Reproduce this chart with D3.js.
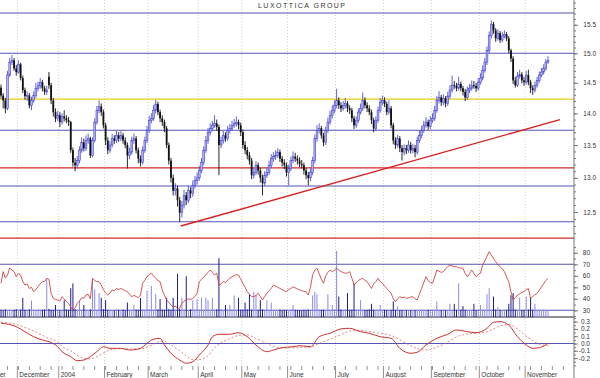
<!DOCTYPE html>
<html><head><meta charset="utf-8">
<script src="https://cdn.jsdelivr.net/npm/d3@7"></script>
<style>body{margin:0;background:#fff}svg{display:block}text{font-family:"Liberation Sans",Arial,sans-serif}</style>
</head><body><svg id="c" width="600" height="378"></svg>
<script>
const title = "LUXOTTICA GROUP";
const opens = [14.42,14.29,14.21,14.08,14.63,14.85,14.88,14.74,14.68,14.81,
14.58,14.38,14.28,14.29,14.13,14.21,14.29,14.41,14.45,14.51,
14.41,14.35,14.60,14.46,14.21,14.02,13.92,13.97,13.86,13.95,
13.92,13.89,13.86,13.42,13.23,13.19,13.26,13.42,13.54,13.45,
13.57,13.60,13.34,13.57,13.86,14.05,14.11,14.02,13.81,13.57,
13.42,13.50,13.60,13.57,13.65,13.60,13.65,13.57,13.50,13.34,
13.39,13.57,13.60,13.42,13.29,13.23,13.42,13.57,13.73,13.89,
13.92,14.05,14.15,14.02,13.92,13.86,13.76,13.50,13.26,13.00,
12.81,12.84,12.67,12.49,12.60,12.74,12.67,12.81,12.77,12.89,
12.96,13.00,13.11,13.23,13.42,13.57,13.70,13.76,13.81,13.84,
13.78,13.50,13.57,13.65,13.60,13.73,13.76,13.81,13.84,13.86,
13.81,13.70,13.50,13.42,13.34,13.26,13.04,13.08,13.19,13.11,
13.00,12.92,13.04,13.08,13.19,13.29,13.32,13.34,13.39,13.29,
13.23,13.19,13.08,13.14,13.26,13.32,13.29,13.26,13.21,13.19,
13.11,13.04,13.00,13.08,13.26,13.60,13.73,13.76,13.65,13.54,
13.73,13.86,13.97,14.05,14.13,14.21,14.13,14.08,14.13,14.16,
14.08,14.05,13.92,13.81,13.89,14.02,14.08,14.21,14.13,14.08,
14.02,13.89,13.76,13.89,14.05,14.18,14.21,14.15,14.02,14.08,
13.81,13.57,13.50,13.60,13.45,13.39,13.45,13.42,13.50,13.42,
13.45,13.39,13.57,13.65,13.73,13.81,13.86,13.79,13.89,13.92,
14.05,14.21,14.26,14.18,14.24,14.16,14.28,14.38,14.46,14.45,
14.41,14.48,14.41,14.35,14.26,14.38,14.41,14.46,14.45,14.41,
14.51,14.58,14.71,14.85,15.05,15.31,15.51,15.40,15.26,15.35,
15.23,15.30,15.33,15.26,15.05,14.91,14.54,14.46,14.61,14.64,
14.54,14.51,14.63,14.51,14.41,14.38,14.46,14.54,14.63,14.68,
14.74,14.85];
const highs = [14.47,14.33,14.25,14.70,14.92,14.97,14.92,14.80,14.88,14.84,
14.62,14.42,14.36,14.33,14.27,14.36,14.50,14.52,14.58,14.55,
14.45,14.45,14.68,14.50,14.25,14.08,14.04,14.02,14.00,14.05,
13.97,13.94,13.88,13.46,13.30,13.33,13.48,13.62,13.60,13.65,
13.68,13.63,13.62,13.92,14.12,14.21,14.16,14.06,13.85,13.62,
13.56,13.67,13.65,13.72,13.70,13.72,13.69,13.62,13.54,13.46,
13.63,13.68,13.64,13.46,13.34,13.48,13.63,13.80,13.96,14.00,
14.13,14.22,14.19,14.06,13.97,13.90,13.80,13.54,13.30,13.05,
12.92,12.88,12.72,12.66,12.82,12.79,12.88,12.86,12.96,13.03,
13.08,13.18,13.30,13.48,13.64,13.77,13.84,13.88,13.97,13.90,
13.82,13.63,13.72,13.70,13.80,13.83,13.88,13.91,13.95,13.90,
13.85,13.74,13.56,13.47,13.39,13.30,13.15,13.25,13.23,13.15,
13.05,13.10,13.15,13.26,13.36,13.39,13.42,13.45,13.43,13.33,
13.28,13.23,13.20,13.32,13.40,13.38,13.34,13.31,13.27,13.23,
13.15,13.09,13.14,13.32,13.66,13.81,13.84,13.80,13.69,13.79,
13.93,14.04,14.13,14.21,14.40,14.26,14.18,14.20,14.25,14.20,
14.13,14.09,13.96,13.95,14.08,14.16,14.34,14.26,14.18,14.13,
14.06,13.93,13.95,14.11,14.25,14.29,14.26,14.19,14.21,14.12,
13.85,13.62,13.66,13.64,13.50,13.51,13.50,13.57,13.55,13.52,
13.50,13.63,13.72,13.80,13.88,13.94,13.90,13.96,14.00,14.12,
14.28,14.36,14.30,14.31,14.28,14.35,14.46,14.62,14.53,14.50,
14.60,14.52,14.45,14.40,14.44,14.48,14.54,14.53,14.50,14.58,
14.66,14.79,14.92,15.12,15.38,15.58,15.55,15.44,15.42,15.39,
15.37,15.40,15.37,15.30,15.08,14.95,14.60,14.68,14.72,14.68,
14.60,14.70,14.72,14.55,14.46,14.52,14.60,14.69,14.75,14.81,
14.90,14.95];
const lows = [14.24,14.08,14.00,14.05,14.60,14.80,14.70,14.62,14.65,14.54,
14.33,14.22,14.20,14.08,14.05,14.17,14.25,14.36,14.40,14.36,
14.30,14.30,14.40,14.15,13.95,13.86,13.88,13.78,13.82,13.87,
13.84,13.80,13.38,13.17,13.10,13.14,13.22,13.38,13.40,13.41,
13.52,13.30,13.31,13.54,13.82,14.00,13.96,13.76,13.50,13.36,
13.38,13.46,13.52,13.53,13.55,13.56,13.52,13.45,13.14,13.28,
13.35,13.52,13.37,13.22,13.17,13.20,13.38,13.53,13.69,13.84,
13.88,14.00,13.97,13.86,13.80,13.70,13.45,13.20,12.93,12.74,
12.74,12.58,12.36,12.42,12.55,12.60,12.63,12.70,12.72,12.84,
12.90,12.96,13.07,13.19,13.38,13.52,13.65,13.72,13.77,13.72,
13.04,13.45,13.52,13.55,13.56,13.68,13.72,13.77,13.79,13.75,
13.64,13.44,13.36,13.28,13.20,12.98,12.99,13.04,13.05,12.93,
12.74,12.88,13.00,13.04,13.15,13.24,13.27,13.30,13.24,13.17,
13.13,13.02,12.89,13.10,13.22,13.24,13.20,13.16,13.14,13.05,
12.98,12.89,12.95,13.04,13.22,13.55,13.68,13.60,13.48,13.50,
13.69,13.82,13.92,14.00,14.08,14.07,14.02,14.04,14.08,14.02,
13.99,13.86,13.75,13.77,13.85,13.98,14.04,14.08,14.02,13.97,
13.83,13.70,13.72,13.85,14.01,14.13,14.10,13.97,13.98,13.76,
13.51,13.44,13.46,13.39,13.26,13.34,13.36,13.38,13.37,13.37,
13.31,13.35,13.53,13.61,13.69,13.77,13.74,13.75,13.85,13.88,
14.01,14.16,14.12,14.13,14.10,14.12,14.24,14.34,14.40,14.36,
14.37,14.36,14.29,14.20,14.22,14.33,14.37,14.40,14.35,14.37,
14.47,14.54,14.67,14.80,15.00,15.26,15.34,15.20,15.22,15.18,
15.19,15.26,15.21,15.00,14.85,14.48,14.42,14.43,14.57,14.49,
14.45,14.47,14.46,14.33,14.30,14.34,14.42,14.50,14.59,14.64,
14.70,14.82];
const closes = [14.29,14.21,14.08,14.63,14.85,14.88,14.74,14.68,14.81,14.58,
14.38,14.28,14.29,14.13,14.21,14.29,14.41,14.45,14.51,14.41,
14.35,14.38,14.46,14.21,14.02,13.92,13.97,13.86,13.95,13.92,
13.89,13.86,13.42,13.23,13.19,13.26,13.42,13.54,13.45,13.57,
13.60,13.34,13.57,13.86,14.05,14.11,14.02,13.81,13.57,13.42,
13.50,13.60,13.57,13.65,13.60,13.65,13.57,13.50,13.34,13.39,
13.57,13.60,13.42,13.29,13.23,13.42,13.57,13.73,13.89,13.92,
14.05,14.15,14.02,13.92,13.86,13.76,13.50,13.26,13.00,12.81,
12.84,12.67,12.49,12.60,12.74,12.67,12.81,12.77,12.89,12.96,
13.00,13.11,13.23,13.42,13.57,13.70,13.76,13.81,13.84,13.78,
13.50,13.57,13.65,13.60,13.73,13.76,13.81,13.84,13.86,13.81,
13.70,13.50,13.42,13.34,13.26,13.04,13.08,13.19,13.11,13.00,
12.92,13.04,13.08,13.19,13.29,13.32,13.34,13.39,13.29,13.23,
13.19,13.08,13.14,13.26,13.32,13.29,13.26,13.21,13.19,13.11,
13.04,13.00,13.08,13.26,13.60,13.73,13.76,13.65,13.54,13.73,
13.86,13.97,14.05,14.13,14.21,14.13,14.08,14.13,14.16,14.08,
14.05,13.92,13.81,13.89,14.02,14.08,14.21,14.13,14.08,14.02,
13.89,13.76,13.89,14.05,14.18,14.21,14.15,14.02,14.08,13.81,
13.57,13.50,13.60,13.45,13.39,13.45,13.42,13.50,13.42,13.45,
13.39,13.57,13.65,13.73,13.81,13.86,13.79,13.89,13.92,14.05,
14.21,14.26,14.18,14.24,14.16,14.28,14.38,14.46,14.45,14.41,
14.48,14.41,14.35,14.26,14.38,14.41,14.46,14.45,14.41,14.51,
14.58,14.71,14.85,15.05,15.31,15.51,15.40,15.26,15.35,15.23,
15.30,15.33,15.26,15.05,14.91,14.54,14.46,14.61,14.64,14.54,
14.51,14.63,14.51,14.41,14.38,14.46,14.54,14.63,14.68,14.74,
14.85,14.88];
const volumes = [300,280,320,290,310,270,300,330,290,310,
800,300,280,320,680,300,290,310,280,300,
320,1580,340,300,290,500,310,280,300,700,
320,300,1200,1400,330,310,700,300,500,310,
290,320,1600,1150,300,1000,800,330,700,300,
310,290,280,320,300,290,310,280,600,300,
290,500,310,300,800,320,300,1100,330,1300,
300,950,320,750,310,300,800,330,300,800,
320,1800,340,800,310,1700,300,320,700,310,
750,300,800,320,800,700,310,800,300,320,
2450,330,300,500,310,500,320,900,300,800,
310,300,600,320,950,310,1050,900,300,700,
320,300,700,310,600,290,300,280,310,290,
300,280,290,310,500,300,280,290,270,300,
290,310,300,900,1050,950,320,300,310,290,
950,300,500,320,2750,850,310,300,320,1000,
300,310,1400,320,300,700,310,290,300,320,
550,300,290,310,500,280,300,290,310,300,
650,300,450,280,290,300,270,290,280,300,
290,280,300,310,290,280,300,290,310,300,
650,300,290,310,280,300,550,290,550,300,
1400,310,450,300,290,280,300,550,290,310,
500,300,310,950,1200,300,850,310,400,300,
290,310,300,550,900,1000,310,300,800,290,
300,850,310,800,300,550,290,300,280,310,
290,300];
const rsi = [53.5,63.6,58,60.7,66.8,65,63.6,59.2,62,60.7,
55,52,53,49,50,46.2,48,50.5,53,54.9,
55,57.8,57,44.8,40.4,39.5,39,38,41.8,40,
37.5,36,33.1,30.3,32,36,38,41,40.4,43.3,
44,40,57.8,56,54.9,55,52,48,45,43.3,
45,47.7,47,49,48,49,48,47,46.2,44,
41.8,43,42,41,43.3,53.5,56,59.2,61,62.2,
60,57.8,56,54.9,47.7,43,39,37,34.6,33,
33.5,31.7,32,36,38,39,40,39.5,40.4,42,
44.8,54.9,57,59,60.7,63,65,63,60.7,62.2,
52,53,55,54,56.3,58,59.2,60,61,60.7,
57,53.5,50,46.2,44,42,41.8,43,44.8,42,
39,42,44.8,47,49,52,51,50,49,48,
47,46.2,48,49,50.5,49.5,48.5,47.7,47,46.5,
46.2,43.3,50,60.7,65,66.5,62,57,53.5,60,
63,65,63.6,65,66.5,65,63.6,63,62.2,62.5,
63.6,58,52,54,56,57,57.8,56,54.9,52,
49,53,55,57.8,55,53.5,51,49,47,44.8,
40,37.5,40,41.8,41,41.5,40.4,41,41.5,41.8,
40,39,44,49,54,59.2,56,54,53.5,59,
65,64,63,63.6,66,68,69.4,68.5,68,67.9,
67,66.8,66.5,62,59.2,62,65,62,59.2,61,
62.2,69.4,73,77,81,78,75,72.3,70,67.9,
66,63.6,59,54.9,46.2,39,41,43.3,44.5,45.5,
46.2,48,49,40.4,42,43.5,44.8,47.5,50.5,53,
56,57.8];
const macdIdx = [0,4,7,11,15,19,22,26,28,32,35,38,41,44,47,50,55,59,64,67,
70,73,75,78,82,85,88,91,95,97,100,105,109,113,117,122,125,129,134,137,
142,146,151,156,160,165,169,174,179,183,188,191,195,200,205,209,214,218,223,226,
229,233,237,241,244,247,251];
const macdLine = [0.277,0.26,0.23,0.16,0.093,0.048,0.025,-0.044,-0.112,-0.18,
-0.235,-0.226,-0.18,-0.112,-0.044,-0.066,-0.066,-0.089,-0.066,0.003,
0.06,0.07,-0.02,-0.134,-0.226,-0.27,-0.25,-0.158,-0.02,0.093,
0.126,0.126,0.148,0.093,-0.02,-0.112,-0.089,-0.057,-0.044,-0.03,
-0.044,0.093,0.14,0.2,0.208,0.162,0.14,0.093,0.071,-0.066,
-0.134,-0.12,-0.02,0.071,0.126,0.185,0.162,0.148,0.208,0.29,
0.3,0.253,0.093,-0.02,-0.066,-0.057,0.003];
const signalLine = [0.29,0.28,0.26,0.22,0.17,0.11,0.07,0.02,-0.04,-0.1,
-0.16,-0.2,-0.21,-0.18,-0.13,-0.09,-0.07,-0.075,-0.075,-0.05,
-0.01,0.03,0.03,-0.02,-0.1,-0.17,-0.22,-0.22,-0.17,-0.09,
-0.01,0.07,0.11,0.12,0.07,0.0,-0.04,-0.06,-0.06,-0.055,
-0.05,0.0,0.06,0.12,0.17,0.18,0.165,0.14,0.11,0.05,
-0.03,-0.07,-0.09,-0.05,0.02,0.09,0.13,0.14,0.16,0.2,
0.24,0.26,0.2,0.1,0.04,-0.01,-0.03];
const levelValues = [15.71, 15.0, 14.23, 13.73, 13.15, 12.88, 12.36, 12.13];
const levelKinds = ["blue","blue","yellow","blue","red","blue","blue","red"];
const trendIdx = [82.5, 256.5];
const trendVals = [12.30, 13.90];
const monthLabels = ["November","December","2004","February","March","April","May","June","July","August","September","October","November"];
const monthStarts = [-12, 8, 27, 48, 68, 91, 111, 132, 154, 176, 198, 220, 241];
const priceTicks = [12.5, 13.0, 13.5, 14.0, 14.5, 15.0, 15.5];
const rsiTicks = [30, 40, 50, 60, 70, 80];
const rsiLevels = [70, 30];
const macdTicks = [-0.2, -0.1, 0, 0.1, 0.2, 0.3];

const svg = d3.select("#c");
const AX = 574;
const x = d3.scaleLinear().domain([0, 251]).range([1, 548]);
const yP = d3.scaleLog().domain([12.5, 15]).range([212, 53.3]);
const yR = d3.scaleLinear().domain([30, 70]).range([310.3, 264.3]);
const yV = d3.scaleLinear().domain([0, 1000]).range([317, 293]);
const yM = d3.scaleLinear().domain([-0.2, 0.3]).range([358.1, 321.6]);
const colors = {blue:"#5454b4", yellow:"#e6cc10", red:"#d42a2a"};

// title
svg.append("text").attr("x", 258).attr("y", 8).attr("font-size", 7).attr("fill", "#333")
  .attr("textLength", 87).attr("lengthAdjust", "spacing").text(title);

// vertical dotted month gridlines
svg.append("g").selectAll("line").data(monthStarts.filter(d => d > 0)).join("line")
  .attr("x1", d => x(d - 0.5)).attr("x2", d => x(d - 0.5))
  .attr("y1", 0).attr("y2", 366)
  .attr("stroke", "#c4c4c4").attr("stroke-width", 0.8).attr("stroke-dasharray", "1,2");

// price level lines
svg.append("g").selectAll("line").data(levelValues).join("line")
  .attr("x1", 0).attr("x2", AX)
  .attr("y1", d => yP(d)).attr("y2", d => yP(d))
  .attr("stroke", (d, i) => colors[levelKinds[i]]).attr("stroke-width", 1.1);

// RSI level lines, separator and MACD zero line
svg.append("g").selectAll("line").data(rsiLevels).join("line")
  .attr("x1", 0).attr("x2", AX).attr("y1", d => yR(d)).attr("y2", d => yR(d))
  .attr("stroke", colors.blue).attr("stroke-width", 1.1);
svg.append("line").attr("x1", 0).attr("x2", AX).attr("y1", yV(0)).attr("y2", yV(0))
  .attr("stroke", "#222").attr("stroke-width", 1);
svg.append("line").attr("x1", 0).attr("x2", AX).attr("y1", yM(0)).attr("y2", yM(0))
  .attr("stroke", colors.blue).attr("stroke-width", 1.1);

const idx = d3.range(closes.length);
const up = i => closes[i] >= opens[i];

// volume bars
svg.append("g").selectAll("line").data(idx).join("line")
  .attr("x1", i => x(i)).attr("x2", i => x(i))
  .attr("y1", yV(0)).attr("y2", i => yV(volumes[i]))
  .attr("stroke", i => up(i) ? "#8a8ae6" : "#1c1c8a").attr("stroke-width", 1);

// RSI line
svg.append("path").datum(idx)
  .attr("d", d3.line().x(i => x(i)).y(i => yR(rsi[i])))
  .attr("fill", "none").attr("stroke", "#d04444").attr("stroke-width", 0.9);

// MACD lines
const mIdx = d3.range(macdIdx.length);
svg.append("path").datum(mIdx)
  .attr("d", d3.line().curve(d3.curveMonotoneX).x(k => x(macdIdx[k])).y(k => yM(signalLine[k])))
  .attr("fill", "none").attr("stroke", "#d86a6a").attr("stroke-width", 0.8).attr("stroke-dasharray", "2,2");
svg.append("path").datum(mIdx)
  .attr("d", d3.line().curve(d3.curveMonotoneX).x(k => x(macdIdx[k])).y(k => yM(macdLine[k])))
  .attr("fill", "none").attr("stroke", "#cc3030").attr("stroke-width", 1);

// candles
const cg = svg.append("g");
cg.selectAll("line").data(idx).join("line")
  .attr("x1", i => x(i)).attr("x2", i => x(i))
  .attr("y1", i => yP(highs[i])).attr("y2", i => yP(lows[i]))
  .attr("stroke", i => up(i) ? "#5050d8" : "#111").attr("stroke-width", 0.9);
cg.selectAll("rect").data(idx).join("rect")
  .attr("x", i => x(i) - 0.9).attr("width", 1.8)
  .attr("y", i => yP(Math.max(opens[i], closes[i])))
  .attr("height", i => Math.max(1, Math.abs(yP(opens[i]) - yP(closes[i]))))
  .attr("fill", i => up(i) ? "#b4b4f2" : "#111")
  .attr("stroke", i => up(i) ? "#4848d4" : "none").attr("stroke-width", 0.6);

// trend line
svg.append("line")
  .attr("x1", x(trendIdx[0])).attr("y1", yP(trendVals[0]))
  .attr("x2", x(trendIdx[1])).attr("y2", yP(trendVals[1]))
  .attr("stroke", "#d82020").attr("stroke-width", 1.4);

// right axis
svg.append("line").attr("x1", AX).attr("x2", AX).attr("y1", 0).attr("y2", 378)
  .attr("stroke", "#777").attr("stroke-width", 1);
function styleAxis(g, labelX) {
  g.select(".domain").remove();
  g.selectAll(".tick line").attr("stroke", "#777");
  g.selectAll(".tick text").attr("x", labelX).attr("text-anchor", "end")
    .attr("fill", "#333").attr("font-size", 6.5).attr("font-family", '"Liberation Sans",Arial,sans-serif');
}
const minorP = d3.range(122, 160).map(d => d / 10);
svg.append("g").attr("transform", `translate(${AX},0)`)
  .call(d3.axisRight(yP).tickValues(minorP).tickSize(2).tickFormat(""))
  .call(g => styleAxis(g, 0));
svg.append("g").attr("transform", `translate(${AX},0)`)
  .call(d3.axisRight(yP).tickValues(priceTicks).tickSize(4).tickFormat(d3.format(".1f")))
  .call(g => styleAxis(g, 22));
svg.append("g").attr("transform", `translate(${AX},0)`)
  .call(d3.axisRight(yR).tickValues(d3.range(25, 90, 5)).tickSize(2).tickFormat(""))
  .call(g => styleAxis(g, 0));
svg.append("g").attr("transform", `translate(${AX},0)`)
  .call(d3.axisRight(yR).tickValues(rsiTicks).tickSize(4).tickFormat(d => String(d)))
  .call(g => styleAxis(g, 16));
svg.append("g").attr("transform", `translate(${AX},0)`)
  .call(d3.axisRight(yM).tickValues(d3.range(-6, 8).map(d => d / 20)).tickSize(2).tickFormat(""))
  .call(g => styleAxis(g, 0));
svg.append("g").attr("transform", `translate(${AX},0)`)
  .call(d3.axisRight(yM).tickValues(macdTicks).tickSize(4).tickFormat(d => d.toFixed(1)))
  .call(g => styleAxis(g, 16));

// bottom date axis
const weekly = d3.range(-12, 262, 5);
svg.append("g").selectAll("line").data(weekly).join("line")
  .attr("x1", d => x(d)).attr("x2", d => x(d)).attr("y1", 366).attr("y2", 370)
  .attr("stroke", "#777").attr("stroke-width", 0.8);
svg.append("g").selectAll("line").data(monthStarts).join("line")
  .attr("x1", d => x(d - 0.5)).attr("x2", d => x(d - 0.5)).attr("y1", 366).attr("y2", 378)
  .attr("stroke", "#777").attr("stroke-width", 0.8);
svg.append("g").selectAll("text").data(monthStarts).join("text")
  .attr("x", d => x(d - 0.5) + 2).attr("y", 377)
  .attr("font-size", 6.5).attr("fill", "#333")
  .text((d, i) => monthLabels[i]);
</script></body></html>
